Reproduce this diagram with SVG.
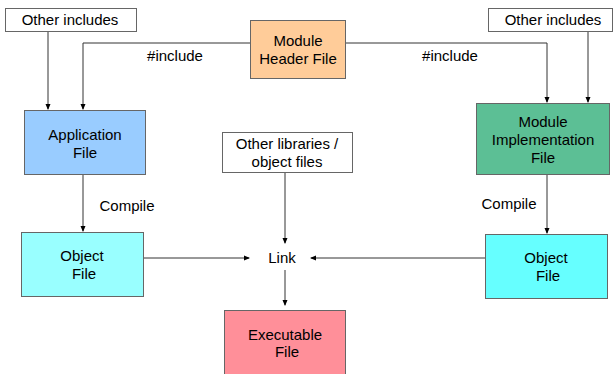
<svg xmlns="http://www.w3.org/2000/svg" width="613" height="374" viewBox="0 0 613 374">
<defs>
<style>
text{font-family:"Liberation Sans",Arial,sans-serif;font-size:15px;fill:#000;text-anchor:middle}
.box{stroke:#666;stroke-width:1}
.ln{fill:none;stroke:#333;stroke-width:1}
</style>
<marker id="ah" markerWidth="6" markerHeight="6" refX="5" refY="3" orient="auto" markerUnits="userSpaceOnUse">
<path d="M0,0.5 L6,3 L0,5.5 z" fill="#000"/>
</marker>
</defs>
<rect width="613" height="374" fill="#fff"/>
<g id="connectors">
<path class="ln" d="M48,32 V109" marker-end="url(#ah)"/>
<path class="ln" d="M250,43 H83 V109" marker-end="url(#ah)"/>
<path class="ln" d="M345,43 H547 V102" marker-end="url(#ah)"/>
<path class="ln" d="M588,32 V102" marker-end="url(#ah)"/>
<path class="ln" d="M83,175 V231" marker-end="url(#ah)"/>
<path class="ln" d="M547,175 V233" marker-end="url(#ah)"/>
<path class="ln" d="M143,258 H249" marker-end="url(#ah)"/>
<path class="ln" d="M485,258 H311" marker-end="url(#ah)"/>
<path class="ln" d="M285,173 V243" marker-end="url(#ah)"/>
<path class="ln" d="M285,270 V305" marker-end="url(#ah)"/>
<text x="175" y="61">#include</text>
<text x="450" y="61">#include</text>
<text x="127" y="211">Compile</text>
<text x="509" y="209">Compile</text>
</g>
<g id="other-includes-left">
<rect class="box" x="5.5" y="8.5" width="131" height="23" fill="#fff"/>
<text x="70" y="25">Other includes</text>
</g>
<g id="other-includes-right">
<rect class="box" x="488.5" y="8.5" width="124" height="23" fill="#fff"/>
<text x="553" y="25">Other includes</text>
</g>
<g id="module-header">
<rect class="box" x="250.5" y="20.5" width="95" height="58" fill="#FFCC99"/>
<text x="298" y="46">Module</text>
<text x="298" y="64">Header File</text>
</g>
<g id="application-file">
<rect class="box" x="24.5" y="110.5" width="121" height="64" fill="#99CCFF"/>
<text x="85" y="140">Application</text>
<text x="85" y="158">File</text>
</g>
<g id="other-libraries">
<rect class="box" x="222.5" y="132.5" width="130" height="40" fill="#fff"/>
<text x="287" y="149">Other libraries /</text>
<text x="287" y="167">object files</text>
</g>
<g id="module-implementation">
<rect class="box" x="476.5" y="103.5" width="133" height="71" fill="#5CBF95"/>
<text x="543" y="127">Module</text>
<text x="543" y="145">Implementation</text>
<text x="543" y="163">File</text>
</g>
<g id="object-file-left">
<rect class="box" x="21.5" y="232.5" width="122" height="64" fill="#99FFFF"/>
<text x="82" y="261">Object</text>
<text x="84" y="279">File</text>
</g>
<g id="link">
<text x="282" y="263">Link</text>
</g>
<g id="object-file-right">
<rect class="box" x="485.5" y="234.5" width="122" height="64" fill="#66FFFF"/>
<text x="546" y="263">Object</text>
<text x="548" y="281">File</text>
</g>
<g id="executable">
<rect class="box" x="224.5" y="310.5" width="121" height="70" fill="#FF8F99"/>
<text x="285" y="340">Executable</text>
<text x="287" y="357">File</text>
</g>
</svg>
